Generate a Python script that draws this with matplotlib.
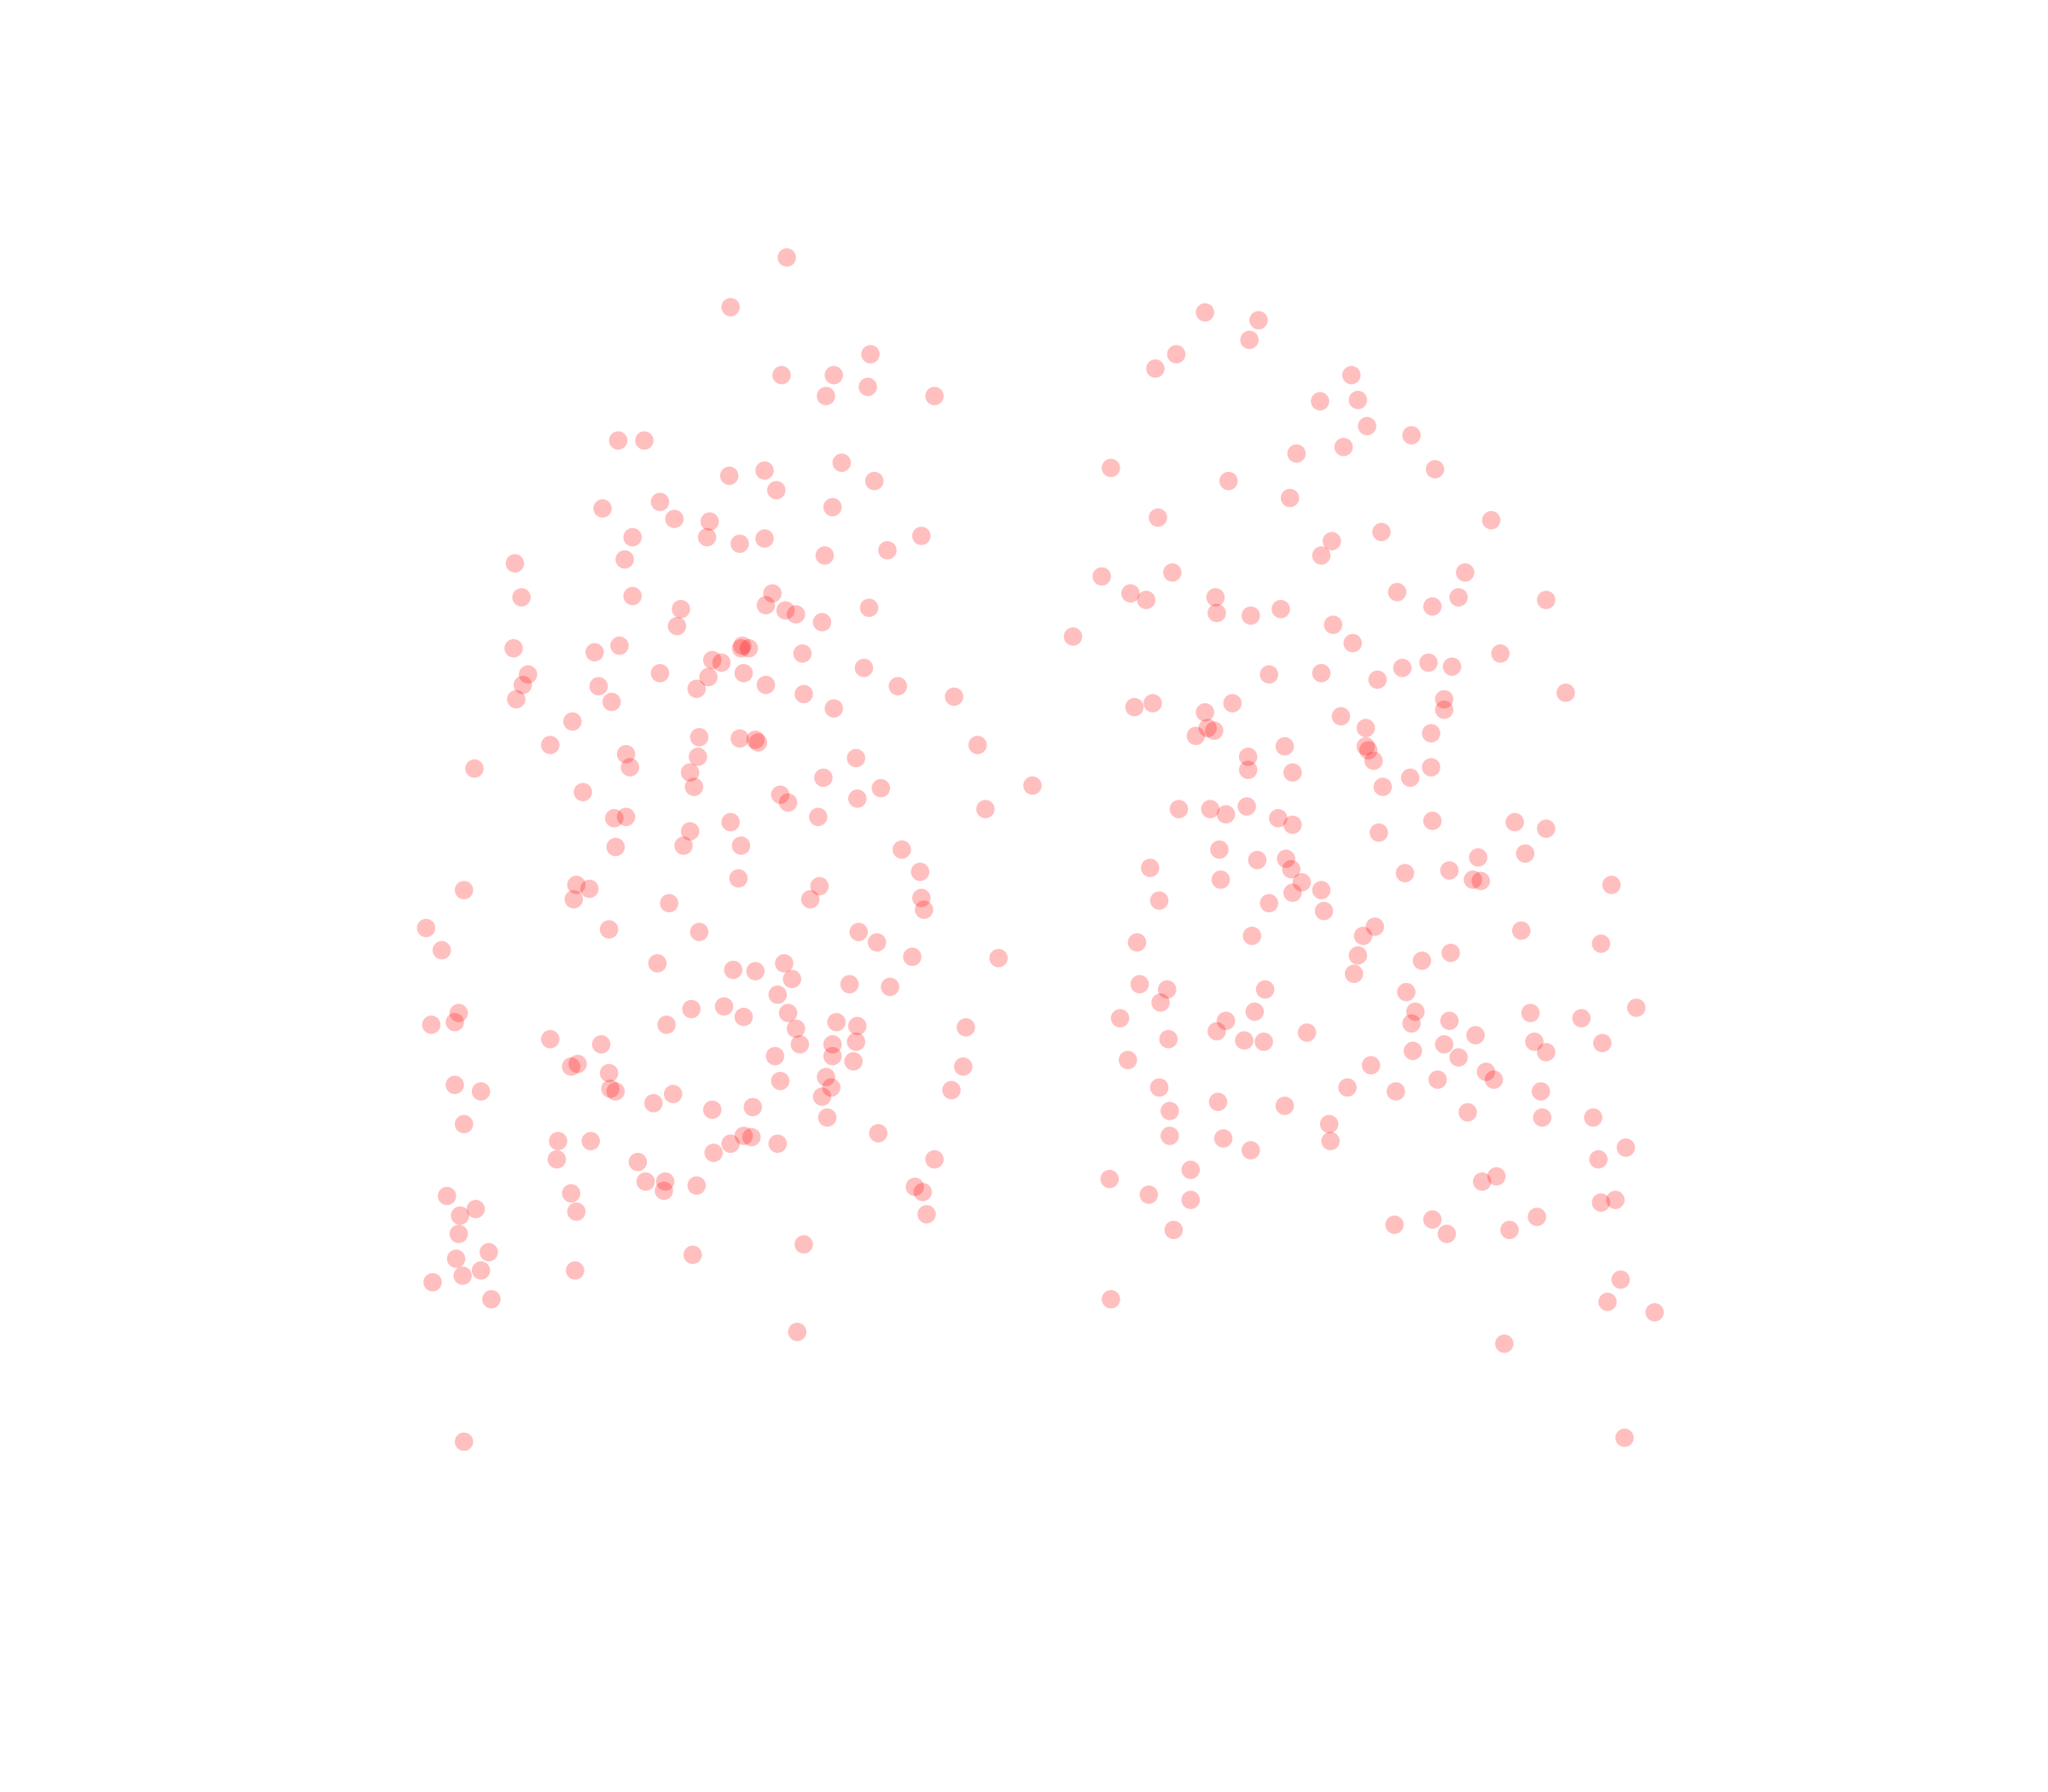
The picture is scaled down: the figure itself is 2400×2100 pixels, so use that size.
import numpy as np
import matplotlib
matplotlib.use("Agg")
import matplotlib.pyplot as plt

# point positions (x, y in picture units, y grows down)
left_x = [602, 559, 598, 638, 666, 632, 664, 715, 473, 493, 644, 558, 585, 594, 669, 461, 505, 516, 543, 541,
          484, 566, 585, 637, 705, 679, 631, 478, 394, 399, 484, 521, 518, 591, 586, 601, 609, 629, 665, 393,
          455, 474, 567, 573, 568, 614, 545, 552, 404, 400, 395, 505, 542, 569, 458, 468, 533, 586, 615, 661,
          687, 730, 638, 438, 535, 566, 578, 580, 421, 363, 479, 482, 534, 528, 531, 446, 630, 655, 674, 656,
          597, 603, 748, 754, 790, 470, 479, 559, 626, 528, 523, 567, 471, 690, 704, 565, 627, 620, 441, 451,
          439, 355, 512, 705, 707, 326, 338, 466, 535, 657, 671, 698, 764, 503, 561, 578, 600, 606, 650, 681,
          595, 529, 554, 569, 603, 351, 348, 330, 510, 609, 640, 656, 739, 421, 460, 612, 637, 655, 437, 442,
          593, 637, 653, 737, 466, 348, 368, 467, 471, 515, 597, 632, 636, 629, 728, 500, 545, 576, 633, 355,
          427, 452, 569, 575, 559, 595, 672, 546, 426, 488, 715, 494, 509, 508, 533, 700, 706, 342, 437, 364,
          352, 441, 709, 351, 615, 374, 349, 530, 368, 354, 440, 331, 376, 610, 355]
left_y = [197, 235, 287, 287, 271, 303, 296, 303, 337, 337, 354, 364, 360, 375, 368, 389, 384, 397, 399, 411,
          411, 416, 412, 388, 410, 421, 425, 428, 431, 457, 456, 466, 479, 454, 463, 467, 470, 476, 465, 496,
          499, 494, 496, 496, 494, 500, 505, 507, 516, 524, 535, 515, 518, 515, 525, 537, 527, 524, 531, 511,
          525, 533, 542, 552, 564, 565, 566, 568, 570, 588, 577, 587, 579, 591, 602, 606, 595, 580, 603, 611,
          608, 614, 570, 619, 601, 626, 625, 629, 625, 636, 647, 647, 648, 650, 667, 672, 678, 688, 677, 680,
          688, 681, 691, 687, 696, 710, 727, 711, 713, 713, 721, 732, 733, 737, 742, 743, 737, 749, 753, 755,
          761, 772, 770, 778, 775, 775, 782, 784, 784, 787, 782, 785, 786, 795, 799, 799, 799, 797, 816, 814,
          808, 808, 812, 816, 821, 830, 835, 833, 835, 837, 827, 824, 832, 839, 834, 844, 849, 847, 855, 860,
          873, 873, 869, 870, 875, 875, 867, 882, 887, 889, 887, 904, 904, 911, 907, 908, 912, 915, 913, 925,
          930, 927, 929, 944, 952, 958, 963, 960, 972, 976, 972, 981, 994, 1019, 1103]

right_x = [922, 963, 956, 900, 884, 1034, 1010, 1039, 1046, 1080, 992, 1028, 850, 1098, 940, 987, 886, 1141, 1057, 1019,
           1011, 843, 897, 1121, 865, 877, 930, 931, 957, 980, 1069, 1096, 1116, 1183, 821, 1020, 1035, 1148, 1073, 1093,
           1111, 971, 1011, 1054, 1198, 868, 882, 943, 922, 1105, 1105, 1026, 915, 924, 929, 1045, 1095, 955, 983, 1045,
           1047, 1051, 955, 989, 1079, 1095, 1058, 902, 926, 938, 954, 978, 989, 1055, 1096, 1159, 1183, 933, 962, 984,
           988, 880, 1167, 1131, 1109, 1075, 1127, 1133, 934, 996, 1011, 989, 887, 971, 1013, 1233, 958, 1043, 1052, 870,
           1164, 1225, 1039, 1088, 1110, 1036, 872, 893, 888, 968, 960, 857, 938, 1076, 1083, 1080, 1109, 1171, 1210, 1252,
           931, 952, 967, 1000, 894, 1129, 1105, 1174, 1081, 1183, 1226, 863, 1116, 1049, 1137, 1143, 1100, 887, 1031, 1068,
           1179, 895, 932, 983, 1123, 1180, 1219, 1017, 895, 936, 957, 1018, 1244, 1223, 911, 849, 1145, 1134, 879, 911,
           1225, 1236, 1176, 1096, 1067, 898, 1107, 1155, 1240, 850, 1230, 1266, 1151, 1243]
right_y = [239, 245, 260, 271, 282, 287, 307, 306, 326, 333, 347, 342, 358, 359, 368, 381, 396, 398, 407, 414,
           425, 441, 438, 438, 454, 459, 457, 469, 471, 466, 453, 464, 457, 459, 487, 478, 492, 500, 511, 507,
           510, 516, 515, 520, 530, 541, 538, 538, 545, 535, 543, 548, 563, 557, 559, 557, 561, 579, 571, 571,
           574, 582, 589, 591, 595, 587, 602, 619, 619, 623, 617, 626, 631, 637, 628, 629, 634, 650, 658, 657,
           665, 664, 653, 656, 666, 668, 673, 674, 673, 675, 681, 683, 689, 691, 697, 677, 716, 716, 709, 721,
           712, 722, 731, 735, 729, 745, 753, 757, 767, 757, 774, 779, 781, 759, 774, 783, 781, 775, 779, 771,
           789, 796, 797, 790, 795, 792, 799, 797, 804, 805, 798, 811, 809, 815, 820, 826, 826, 832, 832, 835,
           835, 850, 843, 846, 851, 855, 855, 860, 869, 871, 880, 873, 878, 887, 895, 902, 900, 904, 914, 918,
           920, 918, 931, 933, 937, 941, 944, 941, 979, 994, 996, 1004, 1028, 1100]

x = np.array(left_x + right_x)
y = np.array(left_y + right_y)

fig = plt.figure(figsize=(12, 10.5), dpi=200)
ax = fig.add_axes([0, 0, 1, 1])
ax.scatter(x, y, s=60, color="red", alpha=0.25, edgecolors="none")
ax.set_xlim(0, 1567)
ax.set_ylim(1371, 0)
ax.axis("off")

fig.savefig("out.png", dpi=200, facecolor="white")
